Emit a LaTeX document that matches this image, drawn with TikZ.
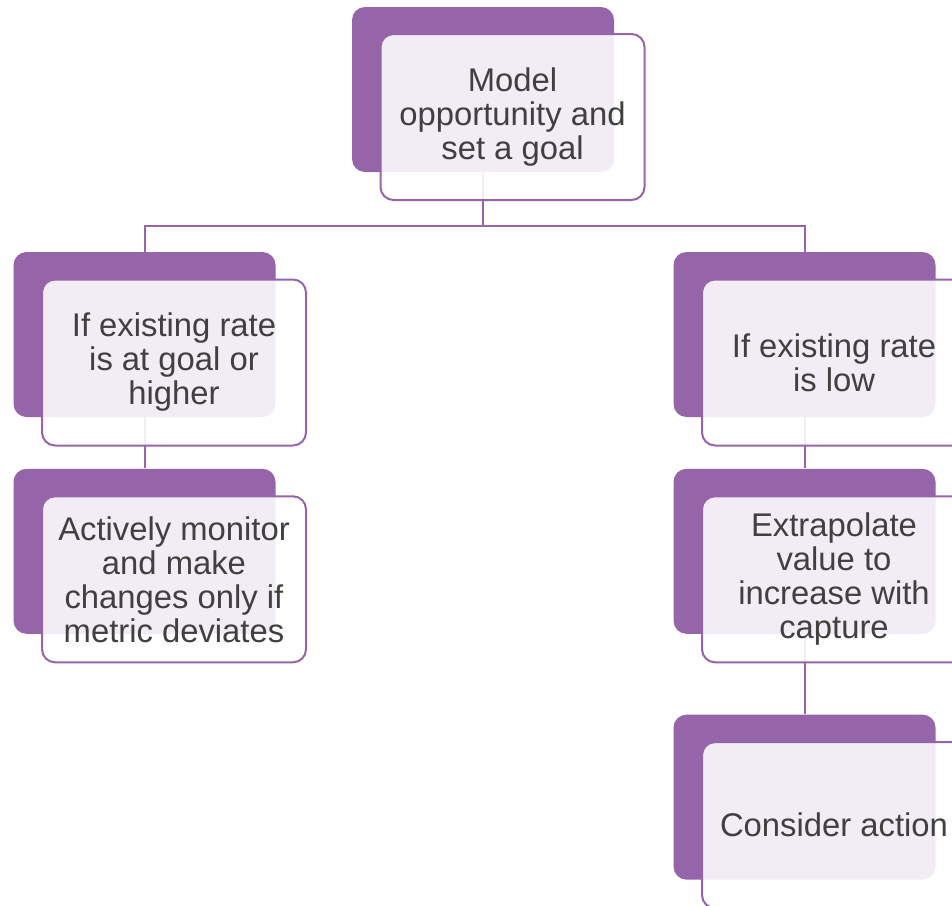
\documentclass[tikz,border=0pt]{standalone}
\usepackage{fontspec}
\setmainfont{Liberation Sans}
\usepackage{xcolor}
\usepackage{tikz}
\usetikzlibrary{positioning}
\definecolor{plum}{HTML}{9664A8}
\definecolor{ink}{HTML}{404040}
\tikzstyle{backbox} = [rectangle, rounded corners=6.5pt, minimum width=131pt, minimum height=82.5pt, inner sep=0pt, fill=plum]
\tikzstyle{frontbox} = [rectangle, rounded corners=6.5pt, minimum width=132pt, minimum height=83pt, inner sep=0pt, draw=plum, line width=1pt, fill=white, fill opacity=0.88, draw opacity=1, text opacity=1, text=ink, align=center, font=\fontsize{16.4}{17}\selectfont]
\tikzstyle{link} = [line width=1pt, draw=plum]

\begin{document}
\begin{tikzpicture}[x=0.5pt, y=-0.5pt]
    \useasboundingbox (0,0) rectangle (952,905);
    \clip (0,0) rectangle (952,905);
    % back plates
    \node(goalB)[backbox] at (483,89.5) {};
    \node(highB)[backbox] at (144.5,334.5) {};
    \node(monitorB)[backbox, below=25.5pt of highB] {};
    \node(lowB)[backbox] at (804.5,334.5) {};
    \node(extrapB)[backbox, below=25.5pt of lowB] {};
    \node(actionB)[backbox, below=40pt of extrapB] {};
    %
    \coordinate(split) at (483,226);
    \draw [link] (goalB.south)--(split)-|(highB.north);
    \draw [link] (split)-|(lowB.north);
    \draw [link] (highB)--(monitorB);
    \draw [link] (lowB)--(extrapB);
    \draw [link] (extrapB)--(actionB);
    %
    \node(goalF)[frontbox, xshift=14.75pt, yshift=-13.75pt] at (goalB) {Model\\opportunity and\\set a goal};
    \node(highF)[frontbox, xshift=14.75pt, yshift=-14pt] at (highB) {If existing rate\\is at goal or\\higher};
    \node(monitorF)[frontbox, xshift=14.75pt, yshift=-14pt] at (monitorB) {Actively monitor\\and make\\changes only if\\metric deviates};
    \node(lowF)[frontbox, xshift=14.75pt, yshift=-14pt] at (lowB) {If existing rate\\is low};
    \node(extrapF)[frontbox, xshift=14.75pt, yshift=-14pt] at (extrapB) {Extrapolate\\value to\\increase with\\capture};
    \node(actionF)[frontbox, xshift=14.75pt, yshift=-14pt] at (actionB) {Consider action};
\end{tikzpicture}
\end{document}
